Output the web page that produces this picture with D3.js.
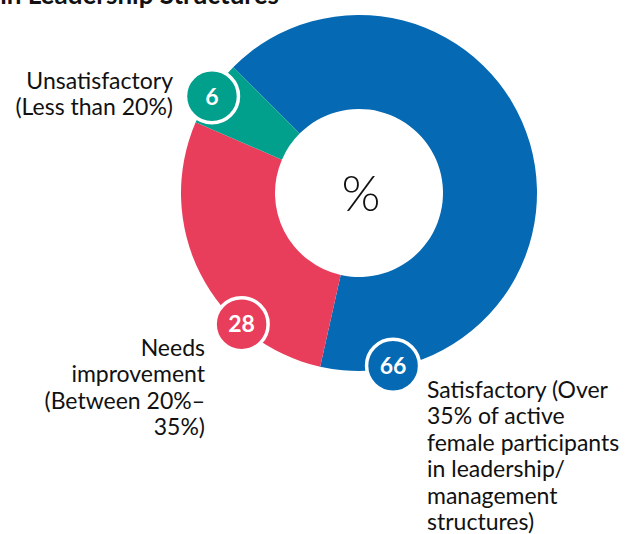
<!DOCTYPE html>
<html>
<head>
<meta charset="utf-8">
<script src="https://cdn.jsdelivr.net/npm/d3@7"></script>
<style>
  body { margin: 0; background: #fff; }
  svg { display: block; font-family: Lato, "Open Sans", sans-serif; }
</style>
</head>
<body>
<div class="wrapper"></div>
<script>
// data
var categories = ["Satisfactory", "Needs improvement", "Unsatisfactory"];
var values = [66, 28, 6];
var labelLines = [
    ["Satisfactory (Over", "35% of active", "female participants", "in leadership/", "management", "structures)"],
    ["Needs", "improvement", "(Between 20%\u2013", "35%)"],
    ["Unsatisfactory", "(Less than 20%)"]
];
var colors = ["#0569b3", "#e83e5c", "#00a08c"];

var width = 630, height = 534;
var cx = 359, cy = 193, outerR = 178, innerR = 84;
// where the number badge sits along each slice (0 = start, 1 = end)
var badgeAt = [0.9, 0.29, 0.46];
var labelPos = [
    {x: 427, y: 398, anchor: "start"},
    {x: 205, y: 356, anchor: "end"},
    {x: 173, y: 89, anchor: "end"}
];

var svg = d3.select(".wrapper").append("svg")
    .attr("width", width)
    .attr("height", height);

// title (cut off at the top in the original)
svg.append("text")
    .attr("x", 279)
    .attr("y", 4)
    .attr("text-anchor", "end")
    .style("font-size", "26px")
    .style("font-weight", "bold")
    .style("fill", "#111")
    .text("in Leadership Structures");

var pie = d3.pie()
    .sort(null)
    .startAngle(-45 * Math.PI / 180)
    .endAngle(315 * Math.PI / 180);

var arc = d3.arc().innerRadius(innerR).outerRadius(outerR);

var arcs = pie(values);
var g = svg.append("g").attr("transform", "translate(" + cx + "," + cy + ")");

g.selectAll("path")
    .data(arcs)
    .enter().append("path")
    .attr("d", arc)
    .style("fill", function(d, i) { return colors[i]; });

g.append("text")
    .attr("x", 2)
    .attr("y", 18)
    .attr("text-anchor", "middle")
    .style("font-size", "50px")
    .style("font-weight", 300)
    .style("fill", "#111")
    .text("%");

// number badges
var badge = g.selectAll("g.badge")
    .data(arcs)
    .enter().append("g")
    .attr("class", "badge")
    .attr("transform", function(d, i) {
        var a = d.startAngle + (d.endAngle - d.startAngle) * badgeAt[i];
        var r = outerR - 2;
        return "translate(" + [r * Math.sin(a), -r * Math.cos(a)] + ")";
    });

badge.append("circle")
    .attr("r", 26.5)
    .style("fill", function(d, i) { return colors[i]; })
    .style("stroke", "#fff")
    .style("stroke-width", 3.5);

badge.append("text")
    .attr("text-anchor", "middle")
    .attr("dy", "0.36em")
    .style("font-size", "23px")
    .style("font-weight", "bold")
    .style("fill", "#fff")
    .text(function(d) { return d.data; });

// category labels
labelLines.forEach(function(lines, i) {
    var t = svg.append("text")
        .attr("x", labelPos[i].x)
        .attr("y", labelPos[i].y)
        .attr("text-anchor", labelPos[i].anchor)
        .style("font-size", "23px")
        .style("fill", "#111");
    t.selectAll("tspan")
        .data(lines)
        .enter().append("tspan")
        .attr("x", labelPos[i].x)
        .attr("dy", function(d, j) { return j === 0 ? 0 : 26.4; })
        .text(function(d) { return d; });
});
</script>
</body>
</html>
